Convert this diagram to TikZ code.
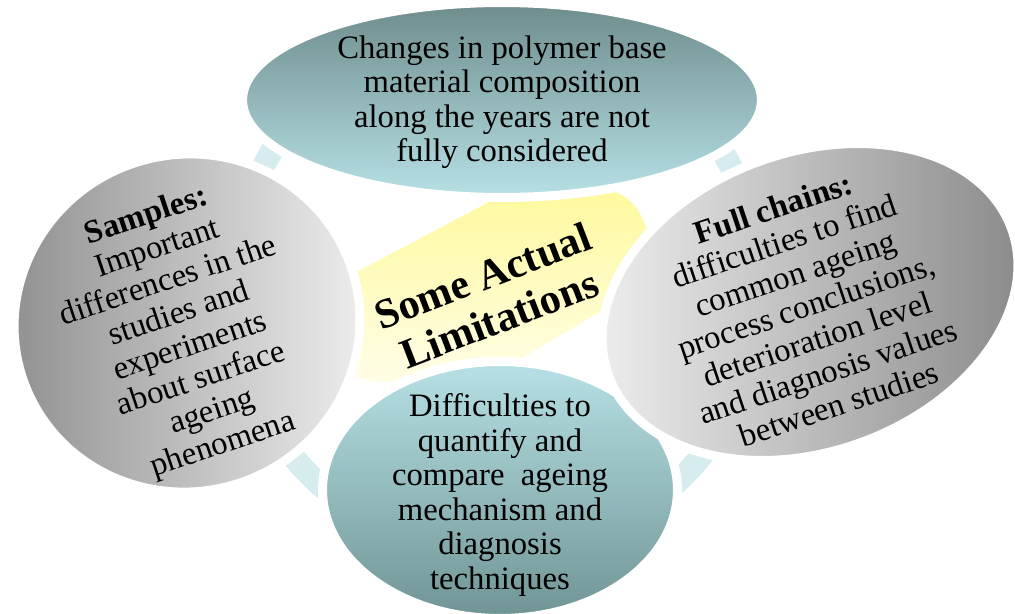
\documentclass[tikz,border=0pt]{standalone}
\usepackage{fontspec}
\setmainfont{Liberation Serif}
\usetikzlibrary{shapes.geometric}
\definecolor{ringblue}{RGB}{214,236,238}
\definecolor{tealdark}{RGB}{110,140,140}
\definecolor{teallight}{RGB}{183,225,230}
\definecolor{tealbot}{RGB}{112,148,148}
\definecolor{graydark}{RGB}{140,140,140}
\definecolor{graylight}{RGB}{242,242,242}
\definecolor{yelstrong}{RGB}{255,249,155}
\definecolor{yelpale}{RGB}{255,254,232}
\tikzset{
  blob/.style={ellipse, inner sep=0pt, draw=white, line width=0.18cm},
  body/.style={font=\fontsize{18.6}{19.6}\selectfont, align=center, inner sep=0pt, text=black},
  ringline/.style={draw=ringblue, line width=0.46cm},
  yelband/.style={shade, shading angle=-28, top color=yelstrong, bottom color=yelpale, rounded corners=0.2cm},
}
\begin{document}
\begin{tikzpicture}[x=0.02cm, y=-0.02cm]
\useasboundingbox (0,0) rectangle (1015,613);
% ring behind
\coordinate (ringc) at (497,289);
\draw[ringline] (ringc) circle[radius=5.28cm];
% central yellow shape
\path[yelband] (330,286) -- (493,200) -- (510,183) -- (590,184) -- (618,192) -- (636,205) -- (644,222)
  -- (662,258) -- (632,300) -- (603,310) -- (527,355) -- (482,386) -- (412,383) -- (364,381)
  -- (340,368) -- cycle;
% four shapes
\node[blob, minimum width=10.38cm, minimum height=3.9cm,
      shade, top color=tealdark, bottom color=teallight] (top) at (502,100) {};
\node[blob, minimum width=7.1cm, minimum height=5.14cm,
      shade, top color=teallight, bottom color=tealbot] (bot) at (500,490) {};
\node[blob, minimum width=6.94cm, minimum height=6.74cm, rotate=20,
      shade, left color=graydark, right color=graylight] (left) at (187,323) {};
\node[blob, minimum width=8.58cm, minimum height=5.98cm, rotate=20,
      shade, left color=graylight, right color=graydark!105] (right) at (810,302) {};
% texts
\node[body] (ttop) at (top.center) [yshift=-0.04cm]
  {Changes in polymer base\\material composition\\along the years are not\\fully considered};
\node[body] (tbot) at (500,495)
  {Difficulties to\\quantify and\\compare~ ageing\\mechanism and\\diagnosis\\techniques};
\node[body, rotate=18.5] (tleft) at (185,331)
  {\textbf{Samples:}\\Important\\differences in the\\studies and\\experiments\\about surface\\ageing\\phenomena};
\node[body, rotate=18.5] (tright) at (806,306)
  {\textbf{Full chains:}\\difficulties to find\\common ageing\\process conclusions,\\deterioration level\\and diagnosis values\\between studies};
\node[font=\fontsize{24}{26}\selectfont\bfseries, align=center, inner sep=0pt, rotate=21] (tcore) at (491,297)
  {Some Actual\\Limitations};
\end{tikzpicture}
\end{document}
